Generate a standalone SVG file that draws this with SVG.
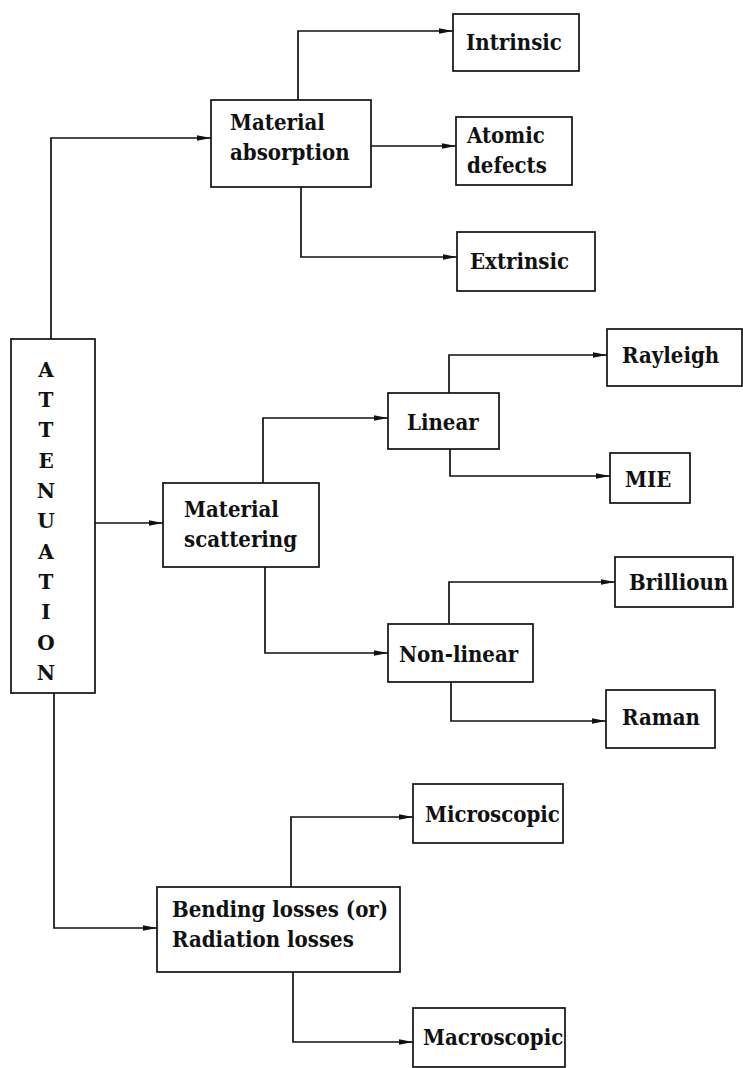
<svg xmlns="http://www.w3.org/2000/svg" width="743" height="1068" viewBox="0 0 743 1068">
<style>
.box{fill:#fff;stroke:#111;stroke-width:1.7}
.t{font-family:"DejaVu Serif","Liberation Serif",serif;font-size:22px;font-weight:bold;font-stretch:condensed;fill:#111}
.v{font-family:"DejaVu Serif","Liberation Serif",serif;font-size:20px;font-weight:bold;fill:#111;text-anchor:middle}
.c{fill:none;stroke:#111;stroke-width:1.7}
</style>
<defs>
<marker id="ah" viewBox="0 0 14 7" refX="14" refY="3.5" markerWidth="14" markerHeight="7" markerUnits="userSpaceOnUse" orient="auto">
<path d="M0,0.8 L14,3.5 L0,6.2 Z" fill="#111"/>
</marker>
</defs>
<rect width="743" height="1068" fill="#fff"/>
<g id="connectors">
<path class="c" d="M51,339 V138 H211" marker-end="url(#ah)"/>
<path class="c" d="M95,523 H163" marker-end="url(#ah)"/>
<path class="c" d="M54,693 V928 H157" marker-end="url(#ah)"/>
<path class="c" d="M298,100 V31 H453" marker-end="url(#ah)"/>
<path class="c" d="M371,146 H456" marker-end="url(#ah)"/>
<path class="c" d="M301,187 V257 H457" marker-end="url(#ah)"/>
<path class="c" d="M263,483 V418 H388" marker-end="url(#ah)"/>
<path class="c" d="M265,567 V653 H388" marker-end="url(#ah)"/>
<path class="c" d="M449,393 V355 H607" marker-end="url(#ah)"/>
<path class="c" d="M450,449 V476 H610" marker-end="url(#ah)"/>
<path class="c" d="M449,624 V582 H615" marker-end="url(#ah)"/>
<path class="c" d="M451,682 V721 H606" marker-end="url(#ah)"/>
<path class="c" d="M291,887 V817 H413" marker-end="url(#ah)"/>
<path class="c" d="M293,972 V1042 H413" marker-end="url(#ah)"/>
</g>
<g id="attenuation">
<rect class="box" x="11" y="339" width="84" height="354"/>
<text class="v" x="46"><tspan x="46" y="377">A</tspan><tspan x="46" y="407">T</tspan><tspan x="46" y="437">T</tspan><tspan x="46" y="468">E</tspan><tspan x="46" y="498">N</tspan><tspan x="46" y="528">U</tspan><tspan x="46" y="559">A</tspan><tspan x="46" y="589">T</tspan><tspan x="46" y="619">I</tspan><tspan x="46" y="650">O</tspan><tspan x="46" y="680">N</tspan></text>
</g>
<g id="material-absorption">
<rect class="box" x="211" y="100" width="160" height="87"/>
<text class="t" x="230" y="130">Material</text>
<text class="t" x="230" y="160">absorption</text>
</g>
<g id="intrinsic">
<rect class="box" x="453" y="14" width="126" height="57"/>
<text class="t" x="466" y="50">Intrinsic</text>
</g>
<g id="atomic-defects">
<rect class="box" x="456" y="117" width="116" height="68"/>
<text class="t" x="467" y="143">Atomic</text>
<text class="t" x="467" y="173">defects</text>
</g>
<g id="extrinsic">
<rect class="box" x="457" y="232" width="138" height="59"/>
<text class="t" x="470" y="269">Extrinsic</text>
</g>
<g id="material-scattering">
<rect class="box" x="163" y="483" width="156" height="84"/>
<text class="t" x="184" y="517">Material</text>
<text class="t" x="184" y="547">scattering</text>
</g>
<g id="linear">
<rect class="box" x="388" y="393" width="111" height="56"/>
<text class="t" x="407" y="430">Linear</text>
</g>
<g id="rayleigh">
<rect class="box" x="607" y="329" width="135" height="57"/>
<text class="t" x="622" y="363">Rayleigh</text>
</g>
<g id="mie">
<rect class="box" x="610" y="453" width="80" height="50"/>
<text class="t" x="625" y="487">MIE</text>
</g>
<g id="non-linear">
<rect class="box" x="388" y="624" width="145" height="58"/>
<text class="t" x="399" y="662">Non-linear</text>
</g>
<g id="brillioun">
<rect class="box" x="615" y="557" width="118" height="50"/>
<text class="t" x="629" y="590">Brillioun</text>
</g>
<g id="raman">
<rect class="box" x="606" y="690" width="109" height="58"/>
<text class="t" x="622" y="725">Raman</text>
</g>
<g id="bending-losses">
<rect class="box" x="157" y="887" width="243" height="85"/>
<text class="t" x="172" y="917">Bending losses (or)</text>
<text class="t" x="172" y="947">Radiation losses</text>
</g>
<g id="microscopic">
<rect class="box" x="413" y="784" width="150" height="59"/>
<text class="t" x="425" y="822">Microscopic</text>
</g>
<g id="macroscopic">
<rect class="box" x="413" y="1008" width="152" height="59"/>
<text class="t" x="423" y="1045">Macroscopic</text>
</g>
</svg>
